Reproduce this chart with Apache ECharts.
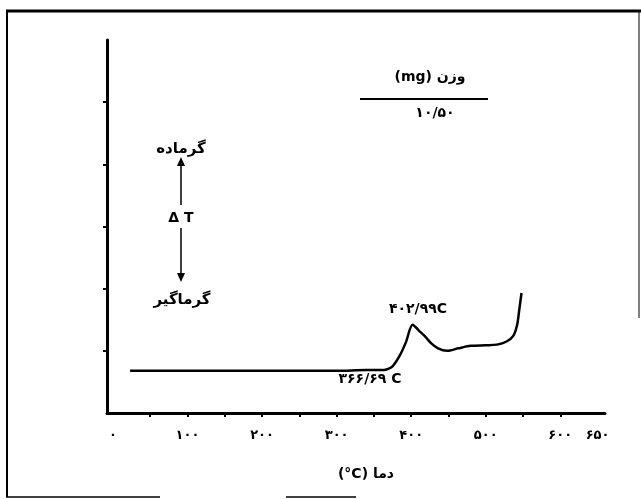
<!DOCTYPE html>
<html>
<head>
<meta charset="utf-8">
<script src="https://cdn.jsdelivr.net/npm/echarts@6/dist/echarts.min.js"></script>
<style>
html, body { margin: 0; padding: 0; background: #fff; }
#main { width: 641px; height: 499px; }
</style>
</head>
<body>
<div id="main"></div>
<script>
// دما (°C) و اختلاف دما (واحد دلخواه)
var temps = [23, 100, 200, 300, 340, 360, 367, 375, 385, 393, 402, 410, 418, 427, 436, 448, 463, 480, 500, 515, 528, 537, 542, 545, 548];
var deltaT = [0.68, 0.68, 0.68, 0.68, 0.69, 0.69, 0.70, 0.75, 0.93, 1.14, 1.42, 1.33, 1.24, 1.12, 1.04, 1.00, 1.04, 1.08, 1.09, 1.10, 1.15, 1.24, 1.41, 1.66, 1.93];
var xTickValues = [50, 100, 150, 200, 250, 300, 350, 400, 450, 500, 550, 600];
var xLabelValues = [0, 100, 200, 300, 400, 500, 600, 650];
var xLabelText = ['۰', '۱۰۰', '۲۰۰', '۳۰۰', '۴۰۰', '۵۰۰', '۶۰۰', '۶۵۰'];
var yTickValues = [1, 2, 3, 4, 5];

var font = '"DejaVu Sans", "Noto Sans", sans-serif';
var seriesData = temps.map(function (t, i) { return [t, deltaT[i]]; });

var option = {
  backgroundColor: '#fff',
  animation: false,
  grid: { left: 107, right: 36, top: 40, bottom: 86 },
  xAxis: {
    type: 'value',
    min: -8,
    max: 660,
    splitLine: { show: false },
    axisLine: { onZero: false, lineStyle: { color: '#000', width: 3 } },
    axisTick: { customValues: xTickValues, length: 4, lineStyle: { color: '#000', width: 2 } },
    axisLabel: {
      customValues: xLabelValues,
      margin: 16,
      color: '#000',
      fontWeight: 'bold',
      fontSize: 13,
      fontFamily: font,
      formatter: function (v) { return xLabelText[xLabelValues.indexOf(v)]; }
    },
    name: '(°C) دما',
    nameLocation: 'middle',
    nameGap: 54,
    nameTextStyle: { color: '#000', fontWeight: 'bold', fontSize: 14, fontFamily: font, padding: [0, 0, 0, 20] }
  },
  yAxis: {
    type: 'value',
    min: 0,
    max: 6,
    splitLine: { show: false },
    axisLine: { onZero: false, lineStyle: { color: '#000', width: 3 } },
    axisTick: { customValues: yTickValues, length: 4, lineStyle: { color: '#000', width: 2 } },
    axisLabel: { show: false }
  },
  series: [{
    type: 'line',
    data: seriesData,
    showSymbol: false,
    smooth: 0.3,
    lineStyle: { color: '#000', width: 2.5 }
  }],
  graphic: [
    // قاب
    { type: 'line', shape: { x1: 7, y1: 10, x2: 7, y2: 497 }, style: { stroke: '#000', lineWidth: 2 } },
    { type: 'line', shape: { x1: 6, y1: 11, x2: 641, y2: 11 }, style: { stroke: '#000', lineWidth: 3 } },
    { type: 'line', shape: { x1: 639, y1: 11, x2: 639, y2: 318 }, style: { stroke: '#000', lineWidth: 1 } },
    { type: 'line', shape: { x1: 6, y1: 497, x2: 160, y2: 497 }, style: { stroke: '#000', lineWidth: 1.5 } },
    { type: 'line', shape: { x1: 286, y1: 497, x2: 356, y2: 497 }, style: { stroke: '#000', lineWidth: 1.5 } },
    // وزن
    { type: 'text', x: 430, y: 77, style: { text: '(mg) وزن', fill: '#000', font: 'bold 14px ' + font, align: 'center', verticalAlign: 'middle' } },
    { type: 'line', shape: { x1: 360, y1: 99, x2: 488, y2: 99 }, style: { stroke: '#000', lineWidth: 2 } },
    { type: 'text', x: 435, y: 113, style: { text: '۱۰/۵۰', fill: '#000', font: 'bold 14px ' + font, align: 'center', verticalAlign: 'middle' } },
    // گرماده / گرماگیر
    { type: 'text', x: 181, y: 149, style: { text: 'گرماده', fill: '#000', font: 'bold 15px ' + font, align: 'center', verticalAlign: 'middle' } },
    { type: 'line', shape: { x1: 181, y1: 205, x2: 181, y2: 164 }, style: { stroke: '#000', lineWidth: 1.5 } },
    { type: 'polygon', shape: { points: [[181, 157], [177, 166], [185, 166]] }, style: { fill: '#000' } },
    { type: 'text', x: 181, y: 218, style: { text: 'Δ T', fill: '#000', font: 'bold 14px ' + font, align: 'center', verticalAlign: 'middle' } },
    { type: 'line', shape: { x1: 181, y1: 228, x2: 181, y2: 274 }, style: { stroke: '#000', lineWidth: 1.5 } },
    { type: 'polygon', shape: { points: [[181, 282], [177, 273], [185, 273]] }, style: { fill: '#000' } },
    { type: 'text', x: 182, y: 300, style: { text: 'گرماگیر', fill: '#000', font: 'bold 15px ' + font, align: 'center', verticalAlign: 'middle' } },
    // نقاط مشخصه
    { type: 'text', x: 418, y: 309, style: { text: '۴۰۲/۹۹C', fill: '#000', font: 'bold 14px ' + font, align: 'center', verticalAlign: 'middle' } },
    { type: 'text', x: 370, y: 379, style: { text: '۳۶۶/۶۹ C', fill: '#000', font: 'bold 14px ' + font, align: 'center', verticalAlign: 'middle' } }
  ]
};

var myChart = echarts.init(document.getElementById('main'));
myChart.setOption(option);
</script>
</body>
</html>
